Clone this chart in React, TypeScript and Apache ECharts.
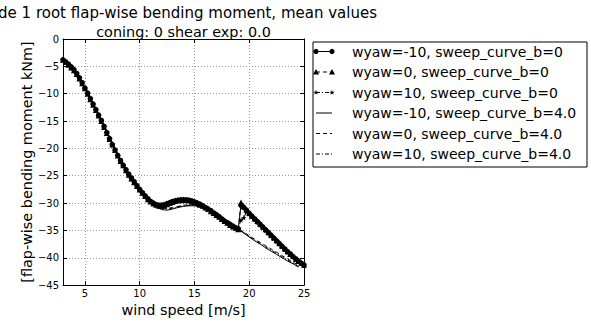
import React, { useEffect, useRef } from 'react';
import * as echarts from 'echarts';

// wind speeds for the sweep_curve_b=0 runs (m/s)
const windA = [3, 3.25, 3.5, 3.75, 4, 4.25, 4.5, 4.75, 5, 5.25, 5.5, 5.75, 6, 6.25, 6.5, 6.75, 7, 7.25, 7.5, 7.75, 8, 8.25, 8.5, 8.75, 9, 9.25, 9.5, 9.75, 10, 10.25, 10.5, 10.75, 11, 11.25, 11.5, 11.75, 12, 12.25, 12.5, 12.75, 13, 13.25, 13.5, 13.75, 14, 14.25, 14.5, 14.75, 15, 15.25, 15.5, 15.75, 16, 16.25, 16.5, 16.75, 17, 17.25, 17.5, 17.75, 18, 18.25, 18.5, 18.75, 19, 19.25, 19.5, 19.75, 20, 20.25, 20.5, 20.75, 21, 21.25, 21.5, 21.75, 22, 22.25, 22.5, 22.75, 23, 23.25, 23.5, 23.75, 24, 24.25, 24.5, 24.75, 25];
// wind speeds for the sweep_curve_b=4.0 runs (m/s)
const windB = [3, 3.5, 4, 4.5, 5, 5.5, 6, 6.5, 7, 7.5, 8, 8.5, 9, 9.5, 10, 10.5, 11, 11.5, 12, 12.5, 13, 13.5, 14, 14.5, 15, 15.5, 16, 16.5, 17, 17.5, 18, 18.5, 19, 19.5, 20, 20.5, 21, 21.5, 22, 22.5, 23, 23.5, 24, 24.5];

const yawM10Sweep0 = [-3.8, -4.2, -4.6, -5.1, -5.6, -6.3, -7.1, -8.0, -9.0, -9.9, -10.9, -11.9, -12.9, -13.9, -14.9, -16.0, -17.1, -18.2, -19.3, -20.3, -21.3, -22.2, -23.1, -23.9, -24.7, -25.4, -26.1, -26.8, -27.5, -28.1, -28.7, -29.2, -29.7, -30.0, -30.3, -30.4, -30.4, -30.3, -30.1, -29.9, -29.7, -29.6, -29.5, -29.4, -29.4, -29.4, -29.5, -29.6, -29.8, -30.0, -30.2, -30.5, -30.8, -31.1, -31.4, -31.8, -32.1, -32.5, -32.9, -33.3, -33.6, -33.9, -34.2, -34.5, -34.7, -30.4, -30.8, -31.3, -31.9, -32.4, -32.9, -33.4, -33.9, -34.4, -34.9, -35.4, -35.9, -36.4, -36.9, -37.4, -37.9, -38.4, -38.9, -39.3, -39.8, -40.2, -40.6, -41.0, -41.3];
const yaw0Sweep0 = [-3.8, -4.2, -4.7, -5.2, -5.7, -6.4, -7.2, -8.1, -9.0, -10.0, -11.0, -12.0, -13.0, -14.0, -15.0, -16.1, -17.2, -18.3, -19.3, -20.3, -21.3, -22.3, -23.1, -24.0, -24.8, -25.5, -26.2, -26.9, -27.5, -28.1, -28.7, -29.3, -29.7, -30.1, -30.3, -30.5, -30.5, -30.4, -30.2, -30.0, -29.8, -29.6, -29.5, -29.5, -29.4, -29.5, -29.5, -29.7, -29.8, -30.0, -30.3, -30.5, -30.8, -31.1, -31.5, -31.8, -32.2, -32.5, -32.9, -33.3, -33.6, -34.0, -34.3, -34.5, -34.8, -29.9, -30.6, -31.2, -31.8, -32.3, -32.8, -33.3, -33.8, -34.3, -34.8, -35.3, -35.8, -36.3, -36.8, -37.3, -37.8, -38.3, -38.8, -39.3, -39.7, -40.2, -40.6, -40.9, -41.3];
const yaw10Sweep0 = [-3.7, -4.1, -4.6, -5.1, -5.6, -6.2, -7.0, -7.9, -8.9, -9.9, -10.9, -11.9, -12.9, -13.9, -14.9, -15.9, -17.0, -18.1, -19.2, -20.2, -21.2, -22.2, -23.0, -23.9, -24.7, -25.4, -26.1, -26.8, -27.4, -28.0, -28.6, -29.2, -29.6, -30.0, -30.2, -30.3, -30.3, -30.2, -30.1, -29.9, -29.7, -29.5, -29.4, -29.3, -29.3, -29.4, -29.4, -29.6, -29.7, -29.9, -30.2, -30.4, -30.7, -31.0, -31.4, -31.7, -32.1, -32.4, -32.8, -33.2, -33.5, -33.8, -34.1, -34.4, -34.6, -33.1, -32.7, -31.6, -32.0, -32.5, -33.0, -33.5, -34.0, -34.5, -35.0, -35.5, -36.0, -36.5, -37.0, -37.5, -38.0, -38.5, -38.9, -39.4, -39.8, -40.3, -40.7, -41.0, -41.4];

const yawM10Sweep4 = [-3.8, -4.6, -5.6, -7.1, -9.0, -10.9, -12.9, -14.9, -17.1, -19.3, -21.3, -23.1, -24.7, -26.1, -27.5, -28.8, -29.9, -30.7, -31.2, -31.3, -31.1, -30.8, -30.6, -30.5, -30.5, -30.7, -31.0, -31.5, -32.1, -32.8, -33.6, -34.2, -34.8, -35.5, -36.2, -36.9, -37.5, -38.2, -38.8, -39.4, -40.0, -40.6, -41.1, -41.7];
const yaw0Sweep4 = [-3.8, -4.7, -5.7, -7.2, -9.0, -11.0, -13.0, -15.0, -17.2, -19.3, -21.3, -23.1, -24.8, -26.2, -27.5, -28.8, -29.9, -30.5, -30.9, -31.0, -30.8, -30.6, -30.4, -30.3, -30.4, -30.6, -30.9, -31.4, -32.0, -32.7, -33.4, -34.1, -34.7, -35.3, -36.0, -36.6, -37.2, -37.8, -38.4, -39.0, -39.6, -40.2, -40.8, -41.4];
const yaw10Sweep4 = [-3.7, -4.6, -5.6, -7.0, -8.9, -10.9, -12.9, -14.9, -17.0, -19.2, -21.2, -23.0, -24.7, -26.1, -27.4, -28.7, -29.8, -30.6, -31.0, -31.1, -31.0, -30.7, -30.5, -30.4, -30.4, -30.6, -30.9, -31.4, -32.0, -32.7, -33.5, -34.1, -34.7, -35.4, -36.1, -36.8, -37.4, -38.0, -38.6, -39.2, -39.8, -40.4, -41.0, -41.6];

const seriesNames = [
  'wyaw=-10, sweep_curve_b=0',
  'wyaw=0, sweep_curve_b=0',
  'wyaw=10, sweep_curve_b=0',
  'wyaw=-10, sweep_curve_b=4.0',
  'wyaw=0, sweep_curve_b=4.0',
  'wyaw=10, sweep_curve_b=4.0',
];
const titleLines = ['Blade 1 root flap-wise bending moment, mean values', 'coning: 0 shear exp: 0.0'];
const xAxisName = 'wind speed [m/s]';
const yAxisName = '[flap-wise bending moment kNm]';

const FONT = '"DejaVu Sans", "Bitstream Vera Sans", sans-serif';
const STAR = 'path://M0,-10L2.4,-3.3L9.5,-3.1L3.8,1.2L5.9,8.1L0,4L-5.9,8.1L-3.8,1.2L-9.5,-3.1L-2.4,-3.3Z';
const DASH = [4, 3];
const DASHDOT = [4, 2, 1, 2];

export default function App() {
  const ref = useRef<HTMLDivElement>(null);
  useEffect(() => {
    const chart = echarts.init(ref.current as HTMLDivElement, null, { renderer: 'svg' });
    const pairs = (xs: number[], ys: number[]) => ys.map((y, i) => [xs[i], y]);
    const markerSeries = (name: string, xs: number[], ys: number[], symbol: string, size: number, dash: any) => ({
      name,
      type: 'line',
      data: pairs(xs, ys),
      symbol,
      symbolSize: size,
      showSymbol: true,
      showAllSymbol: true,
      lineStyle: { color: '#000', width: 1, type: dash },
      itemStyle: { color: '#000', borderWidth: 0 },
      emphasis: { disabled: true },
      z: 3,
    });
    const lineSeries = (name: string, xs: number[], ys: number[], dash: any) => ({
      name,
      type: 'line',
      data: pairs(xs, ys),
      showSymbol: false,
      symbol: 'none',
      lineStyle: { color: '#000', width: 1, type: dash },
      emphasis: { disabled: true },
      z: 4,
    });

    // legend drawn as graphic elements (matplotlib style)
    const lx = 313, ly = 42, lw = 274, lh = 125;
    const row0 = 51.5, rowGap = 20.5;
    const x1 = 316, x2 = 332, tx = 352;
    const legendEls: any[] = [
      { type: 'rect', shape: { x: lx, y: ly, width: lw, height: lh }, style: { fill: '#fff', stroke: '#000', lineWidth: 1 } },
    ];
    const dashes = [null, DASH, DASHDOT, null, DASH, DASHDOT];
    seriesNames.forEach((n, i) => {
      const y = row0 + i * rowGap;
      legendEls.push({ type: 'line', shape: { x1, y1: y, x2, y2: y }, style: { stroke: '#000', lineWidth: 1, lineDash: dashes[i] } });
      [x1, x2].forEach((cx) => {
        if (i === 0) legendEls.push({ type: 'circle', shape: { cx, cy: y, r: 2.6 }, style: { fill: '#000' } });
        if (i === 1) legendEls.push({ type: 'polygon', shape: { points: [[cx, y - 3], [cx - 3, y + 2.5], [cx + 3, y + 2.5]] }, style: { fill: '#000' } });
        if (i === 2) legendEls.push({ type: 'polygon', shape: { points: [[cx, y - 2.6], [cx + 0.7, y - 0.8], [cx + 2.5, y - 0.8], [cx + 1.1, y + 0.4], [cx + 1.6, y + 2.2], [cx, y + 1.1], [cx - 1.6, y + 2.2], [cx - 1.1, y + 0.4], [cx - 2.5, y - 0.8], [cx - 0.7, y - 0.8]] }, style: { fill: '#000' } });
      });
      legendEls.push({ type: 'text', x: tx, y, style: { text: n, font: '14px ' + FONT, fill: '#000', verticalAlign: 'middle', align: 'left' } });
    });

    const titleEls = [
      { type: 'text', x: 377, y: 13, style: { text: titleLines[0], font: '15px ' + FONT, fill: '#000', align: 'right', verticalAlign: 'middle' } },
      { type: 'text', x: 183.5, y: 32, style: { text: titleLines[1], font: '14.4px ' + FONT, fill: '#000', align: 'center', verticalAlign: 'middle' } },
    ];

    const gridLine = { show: true, lineStyle: { color: '#9a9a9a', type: [1, 2], width: 1 } };
    const axisLine = { show: true, onZero: false, lineStyle: { color: '#000', width: 1 } };
    const tick = { show: true, inside: true, length: 4, lineStyle: { color: '#000', width: 1 } };

    chart.setOption({
      animation: false,
      backgroundColor: '#fff',
      textStyle: { fontFamily: FONT },
      grid: { left: 63, right: 287, top: 39, bottom: 31, containLabel: false },
      xAxis: [
        {
          type: 'value', min: 3, max: 25, position: 'bottom',
          axisLine, axisTick: tick, splitLine: gridLine,
          axisLabel: { fontSize: 10, color: '#000', margin: 3, showMinLabel: false, fontFamily: FONT },
          name: xAxisName, nameLocation: 'middle', nameGap: 17,
          nameTextStyle: { fontSize: 14.4, color: '#000', fontFamily: FONT },
        },
        {
          type: 'value', min: 3, max: 25, position: 'top',
          axisLine, axisTick: tick, splitLine: { show: false }, axisLabel: { show: false },
        },
      ],
      yAxis: [
        {
          type: 'value', min: -45, max: 0, interval: 5, position: 'left',
          axisLine, axisTick: tick, splitLine: gridLine,
          axisLabel: { fontSize: 10, color: '#000', margin: 4, fontFamily: FONT, formatter: (v: number) => String(v).replace('-', '\u2212') },
          name: yAxisName, nameLocation: 'middle', nameGap: 29,
          nameTextStyle: { fontSize: 14.4, color: '#000', fontFamily: FONT },
        },
        {
          type: 'value', min: -45, max: 0, interval: 5, position: 'right',
          axisLine, axisTick: tick, splitLine: { show: false }, axisLabel: { show: false },
        },
      ],
      series: [
        markerSeries(seriesNames[0], windA, yawM10Sweep0, 'circle', 5.5, 'solid'),
        markerSeries(seriesNames[1], windA, yaw0Sweep0, 'triangle', 6, DASH),
        markerSeries(seriesNames[2], windA, yaw10Sweep0, STAR, 5.5, DASHDOT),
        lineSeries(seriesNames[3], windB, yawM10Sweep4, 'solid'),
        lineSeries(seriesNames[4], windB, yaw0Sweep4, DASH),
        lineSeries(seriesNames[5], windB, yaw10Sweep4, DASHDOT),
      ],
      graphic: [...titleEls, ...legendEls],
    });
    return () => chart.dispose();
  }, []);
  return <div ref={ref} style={{ position: 'absolute', left: 0, top: 0, width: 591, height: 322, background: '#fff' }} />;
}
